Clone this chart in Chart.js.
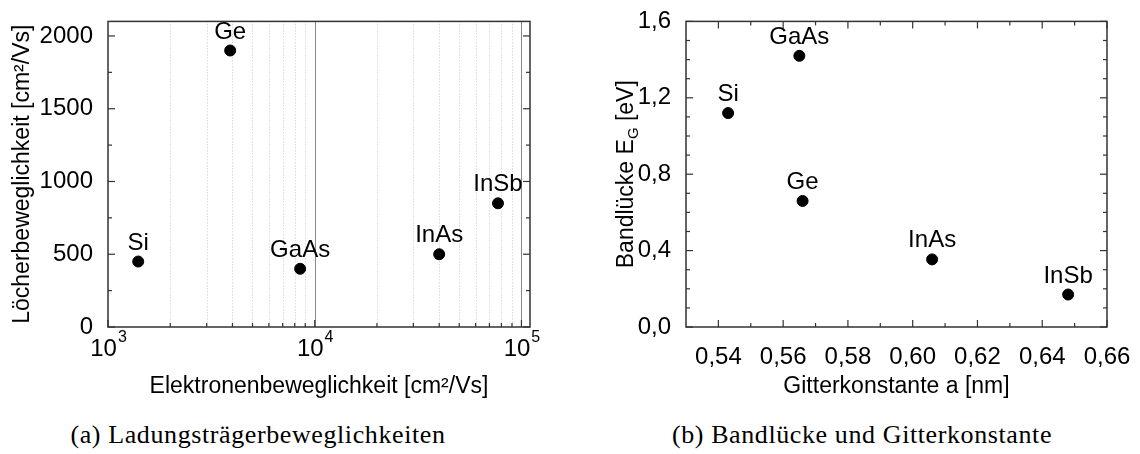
<!DOCTYPE html>
<html>
<head>
<meta charset="utf-8">
<script src="https://cdn.jsdelivr.net/npm/chart.js@4.4.0/dist/chart.umd.min.js"></script>
<style>
    html, body { margin: 0; padding: 0; background: #fff; }
    #page { position: relative; width: 1140px; height: 454px; overflow: hidden; }
    canvas { position: absolute; top: 0; }
    #mobility { left: 0; }
    #bandgap { left: 570px; }
    .caption {
        position: absolute; top: 420px; line-height: 30px;
        font-family: 'Liberation Serif', serif; font-size: 26px; letter-spacing: 0.6px;
        white-space: nowrap; transform: translateX(-50%);
    }
</style>
</head>
<body>
<div id="page">
    <canvas id="mobility" width="570" height="410"></canvas>
    <canvas id="bandgap" width="570" height="410"></canvas>
    <div class="caption" style="left:258px">(a) Ladungsträgerbeweglichkeiten</div>
    <div class="caption" style="left:862px">(b) Bandlücke und Gitterkonstante</div>
</div>
<script>
// Carrier mobilities (cm²/Vs)
const mobilityNames = ['Si', 'Ge', 'GaAs', 'InAs', 'InSb'];
const electronMobility = [1400, 3900, 8500, 40000, 77000];
const holeMobility = [450, 1900, 400, 500, 850];

// Band gap vs. lattice constant
const gapNames = ['Si', 'GaAs', 'Ge', 'InAs', 'InSb'];
const latticeConstant = [0.543, 0.565, 0.566, 0.606, 0.648];
const bandGap = [1.12, 1.42, 0.66, 0.354, 0.17];

// Axis ticks
const decades = [1e3, 1e4, 1e5];
const holeTicks = [0, 500, 1000, 1500, 2000];
const holeMinor = [250, 750, 1250, 1750];
const gapTicks = [0, 0.4, 0.8, 1.2, 1.6];
const gapMinor = [0.1, 0.2, 0.3, 0.5, 0.6, 0.7, 0.9, 1.0, 1.1, 1.3, 1.4, 1.5];
const latticeTicks = [0.54, 0.56, 0.58, 0.60, 0.62, 0.64, 0.66];
const latticeMinor = [0.55, 0.57, 0.59, 0.61, 0.63, 0.65];

// 2..9 between the decades
const logMinor = [];
for (let d = 1e3; d < 1e5; d *= 10) {
    for (let m = 2; m <= 9; m++) logMinor.push(m * d);
}

const FAMILY = "'Liberation Sans', Arial, sans-serif";
const TITLE_FONT = { size: 23 };
Chart.defaults.font.family = FAMILY;
Chart.defaults.font.size = 24;
Chart.defaults.color = '#000';

// dotted minor / solid decade lines on the log axis
const logGrid = {
    id: 'logGrid',
    beforeDatasetsDraw(chart, args, opts) {
        const { ctx, chartArea: a, scales: { x } } = chart;
        ctx.save();
        ctx.lineWidth = 1;
        ctx.strokeStyle = '#c8c8c8';
        ctx.setLineDash([1, 2]);
        opts.minor.forEach(v => {
            const p = Math.round(x.getPixelForValue(v)) + 0.5;
            ctx.beginPath(); ctx.moveTo(p, a.top); ctx.lineTo(p, a.bottom); ctx.stroke();
        });
        ctx.setLineDash([]);
        ctx.strokeStyle = '#8a8a8a';
        opts.major.forEach(v => {
            const p = Math.round(x.getPixelForValue(v)) + 0.5;
            if (p <= a.left + 1 || p >= a.right - 1) return;
            ctx.beginPath(); ctx.moveTo(p, a.top); ctx.lineTo(p, a.bottom); ctx.stroke();
        });
        ctx.restore();
    }
};

// box around the plot with inward ticks
const frameTicks = {
    id: 'frameTicks',
    beforeDatasetsDraw(chart, args, opts) {
        const { ctx, chartArea: a, scales: { x, y } } = chart;
        ctx.save();
        ctx.strokeStyle = '#333';
        ctx.lineWidth = 1.5;
        ctx.strokeRect(a.left, a.top, a.right - a.left, a.bottom - a.top);
        ctx.lineWidth = 1.2;
        const draw = (scale, values, len, sides) => {
            values.forEach(v => {
                const p = scale.getPixelForValue(v);
                sides.forEach(side => {
                    ctx.beginPath();
                    if (side === 'bottom') { ctx.moveTo(p, a.bottom); ctx.lineTo(p, a.bottom - len); }
                    if (side === 'top') { ctx.moveTo(p, a.top); ctx.lineTo(p, a.top + len); }
                    if (side === 'left') { ctx.moveTo(a.left, p); ctx.lineTo(a.left + len, p); }
                    if (side === 'right') { ctx.moveTo(a.right, p); ctx.lineTo(a.right - len, p); }
                    ctx.stroke();
                });
            });
        };
        draw(x, opts.xMajor, 7, opts.xSides);
        draw(x, opts.xMinor, 4, opts.xSides);
        draw(y, opts.yMajor, 7, opts.ySides);
        draw(y, opts.yMinor, 4, opts.ySides);
        ctx.restore();
    }
};

// material name above each point
const pointLabels = {
    id: 'pointLabels',
    afterDatasetsDraw(chart, args, opts) {
        const { ctx } = chart;
        ctx.save();
        ctx.font = '24px ' + FAMILY;
        ctx.fillStyle = '#000';
        ctx.textAlign = 'center';
        ctx.textBaseline = 'alphabetic';
        chart.getDatasetMeta(0).data.forEach((pt, i) => {
            ctx.fillText(opts.names[i], pt.x, pt.y - 12);
        });
        ctx.restore();
    }
};

// 10^n labels under the log axis
const powerLabels = {
    id: 'powerLabels',
    afterDraw(chart) {
        const { ctx, scales: { x } } = chart;
        const big = '24px ' + FAMILY, small = '16px ' + FAMILY;
        ctx.save();
        ctx.fillStyle = '#000';
        ctx.textAlign = 'left';
        ctx.textBaseline = 'alphabetic';
        decades.forEach(v => {
            const p = x.getPixelForValue(v);
            const exp = String(Math.round(Math.log10(v)));
            ctx.font = big;
            const w1 = ctx.measureText('10').width;
            ctx.font = small;
            const w2 = ctx.measureText(exp).width;
            const left = p - (w1 + w2) / 2;
            ctx.font = big;
            ctx.fillText('10', left, 356);
            ctx.font = small;
            ctx.fillText(exp, left + w1 + 1, 342);
        });
        ctx.restore();
    }
};

// "Bandlücke E_G [eV]" with subscript
const gapTitle = {
    id: 'gapTitle',
    afterDraw(chart) {
        const { ctx, chartArea: a } = chart;
        const big = '23px ' + FAMILY, small = '15px ' + FAMILY;
        const head = 'Bandlücke E', sub = 'G', tail = ' [eV]';
        ctx.save();
        ctx.fillStyle = '#000';
        ctx.textBaseline = 'alphabetic';
        ctx.textAlign = 'left';
        ctx.font = big;
        const wHead = ctx.measureText(head).width;
        const wTail = ctx.measureText(tail).width;
        ctx.font = small;
        const wSub = ctx.measureText(sub).width;
        const total = wHead + wSub + wTail;
        ctx.translate(63, (a.top + a.bottom) / 2);
        ctx.rotate(-Math.PI / 2);
        let x0 = -total / 2;
        ctx.font = big;
        ctx.fillText(head, x0, 0);
        ctx.font = small;
        ctx.fillText(sub, x0 + wHead, 5);
        ctx.font = big;
        ctx.fillText(tail, x0 + wHead + wSub, 0);
        ctx.restore();
    }
};

const pointStyle = {
    backgroundColor: '#000',
    borderColor: '#000',
    pointRadius: 5.5,
    pointHoverRadius: 5.5
};

new Chart(document.getElementById('mobility'), {
    type: 'scatter',
    data: {
        datasets: [{
            data: electronMobility.map((x, i) => ({ x: x, y: holeMobility[i] })),
            ...pointStyle
        }]
    },
    options: {
        responsive: false,
        animation: false,
        devicePixelRatio: 1,
        layout: { padding: { top: 16, right: 40, bottom: 0, left: 0 } },
        plugins: {
            legend: { display: false },
            tooltip: { enabled: false },
            logGrid: { minor: logMinor, major: decades },
            frameTicks: {
                xMajor: decades, xMinor: logMinor, xSides: ['bottom'],
                yMajor: holeTicks, yMinor: holeMinor, ySides: ['left', 'right']
            },
            pointLabels: { names: mobilityNames }
        },
        scales: {
            x: {
                type: 'logarithmic',
                min: 1000,
                max: 110000,
                grid: { display: false },
                border: { display: false },
                ticks: { display: false },
                afterBuildTicks: s => { s.ticks = decades.map(v => ({ value: v })); },
                afterFit: s => { s.height = 83; },
                title: {
                    display: true,
                    text: 'Elektronenbeweglichkeit [cm²/Vs]',
                    font: TITLE_FONT,
                    padding: { top: 0, bottom: 10 }
                }
            },
            y: {
                min: 0,
                max: 2100,
                grid: { display: false },
                border: { display: false },
                ticks: { padding: 7, callback: v => String(v) },
                afterBuildTicks: s => { s.ticks = holeTicks.map(v => ({ value: v })); },
                afterFit: s => { s.width = 108; },
                title: {
                    display: true,
                    text: 'Löcherbeweglichkeit [cm²/Vs]',
                    font: TITLE_FONT,
                    padding: { top: 9, bottom: 0 }
                }
            }
        }
    },
    plugins: [logGrid, frameTicks, pointLabels, powerLabels]
});

new Chart(document.getElementById('bandgap'), {
    type: 'scatter',
    data: {
        datasets: [{
            data: latticeConstant.map((x, i) => ({ x: x, y: bandGap[i] })),
            ...pointStyle
        }]
    },
    options: {
        responsive: false,
        animation: false,
        devicePixelRatio: 1,
        layout: { padding: { top: 17, right: 33, bottom: 0, left: 0 } },
        plugins: {
            legend: { display: false },
            tooltip: { enabled: false },
            frameTicks: {
                xMajor: latticeTicks, xMinor: latticeMinor, xSides: ['bottom', 'top'],
                yMajor: gapTicks, yMinor: gapMinor, ySides: ['left', 'right']
            },
            pointLabels: { names: gapNames }
        },
        scales: {
            x: {
                min: 0.53,
                max: 0.66,
                grid: { display: false },
                border: { display: false },
                ticks: { padding: 8, callback: v => v.toFixed(2).replace('.', ',') },
                afterBuildTicks: s => { s.ticks = latticeTicks.map(v => ({ value: v })); },
                afterFit: s => { s.height = 83; },
                title: {
                    display: true,
                    text: 'Gitterkonstante a [nm]',
                    font: TITLE_FONT,
                    padding: { top: 0, bottom: 10 }
                }
            },
            y: {
                min: 0,
                max: 1.6,
                grid: { display: false },
                border: { display: false },
                ticks: { padding: 7, callback: v => v.toFixed(1).replace('.', ',') },
                afterBuildTicks: s => { s.ticks = gapTicks.map(v => ({ value: v })); },
                afterFit: s => { s.width = 116; },
                title: { display: false }
            }
        }
    },
    plugins: [frameTicks, pointLabels, gapTitle]
});
</script>
</body>
</html>
